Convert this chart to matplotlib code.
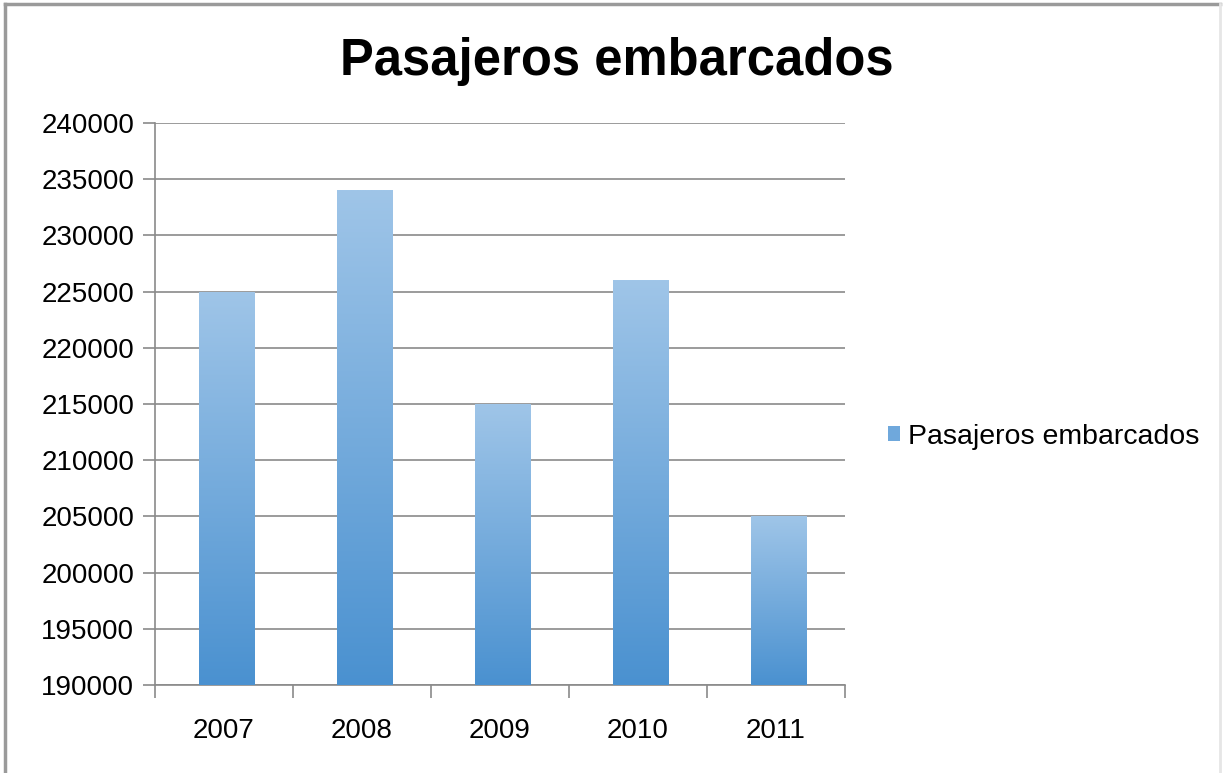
import matplotlib.pyplot as plt
import numpy as np
from matplotlib.colors import LinearSegmentedColormap
from matplotlib.lines import Line2D
from matplotlib.patches import Rectangle

plt.rcParams['font.family'] = ['Liberation Sans', 'DejaVu Sans']

years = ['2007', '2008', '2009', '2010', '2011']
passengers = [225000, 234000, 215000, 226000, 205000]
series_name = 'Pasajeros embarcados'

y_min, y_max, y_step = 190000, 240000, 5000

fig = plt.figure(figsize=(12.24, 7.73), dpi=100)
ax = fig.add_axes([155 / 1224, 1 - 685 / 773, 690 / 1224, 562 / 773])

# vertical gradient used to fill each bar (light at the top, darker at the base)
bar_cmap = LinearSegmentedColormap.from_list('bar', ['#4a91d0', '#9fc5e8'])
grad = np.linspace(0, 1, 256).reshape(-1, 1)

x = np.arange(len(years))
bars = ax.bar(x + 0.02, passengers, width=0.4, bottom=0, color='none', zorder=3)
for bar in bars:
    x0, w, h = bar.get_x(), bar.get_width(), bar.get_height()
    img = ax.imshow(grad, cmap=bar_cmap, origin='lower', aspect='auto',
                    extent=[x0, x0 + w, y_min, h], zorder=3)
    img.set_clip_path(bar)

ax.set_xlim(-0.5, len(years) - 0.5)
ax.set_ylim(y_min, y_max)
ax.set_yticks(np.arange(y_min, y_max + 1, y_step))
ax.set_xticks(x)
ax.set_xticklabels(years)
ax.set_xticks(np.arange(-0.5, len(years)), minor=True)

ax.grid(axis='y', color='#8a8a8a', linewidth=1.2, zorder=1)
ax.set_axisbelow(True)
for side in ['top', 'right']:
    ax.spines[side].set_visible(False)
for side in ['left', 'bottom']:
    ax.spines[side].set_color('#8a8a8a')
    ax.spines[side].set_linewidth(1.2)

ax.tick_params(axis='y', direction='out', length=9, width=1.2, color='#8a8a8a',
               labelsize=20, pad=6)
ax.tick_params(axis='x', which='major', length=0, labelsize=20, pad=24)
ax.tick_params(axis='x', which='minor', direction='out', length=9, width=1.2,
               color='#8a8a8a')

fig.text(617 / 1224, 1 - 62 / 773, series_name, ha='center', va='center',
         fontsize=36.5, fontweight='bold')

handle = Rectangle((0, 0), 1, 1, facecolor='#6fa8dc')
fig.legend([handle], [series_name], loc='center left',
           bbox_to_anchor=(862 / 1224, 1 - 437 / 773), frameon=False,
           fontsize=20.5, handlelength=0.42, handleheight=0.42, handletextpad=0.3)

# outer chart frame: solid on top and left, faint on the right
frame = [((5, 5), (4, 773), '#9a9a9a', 2.5),
         ((5, 1220), (4, 4), '#9a9a9a', 2.5),
         ((1220, 1220), (4, 773), '#e6e6e6', 2)]
for xs, ys, col, lw in frame:
    fig.lines.append(Line2D([v / 1224 for v in xs], [1 - v / 773 for v in ys],
                            transform=fig.transFigure, color=col, linewidth=lw))

fig.savefig('out.png', dpi=100)
